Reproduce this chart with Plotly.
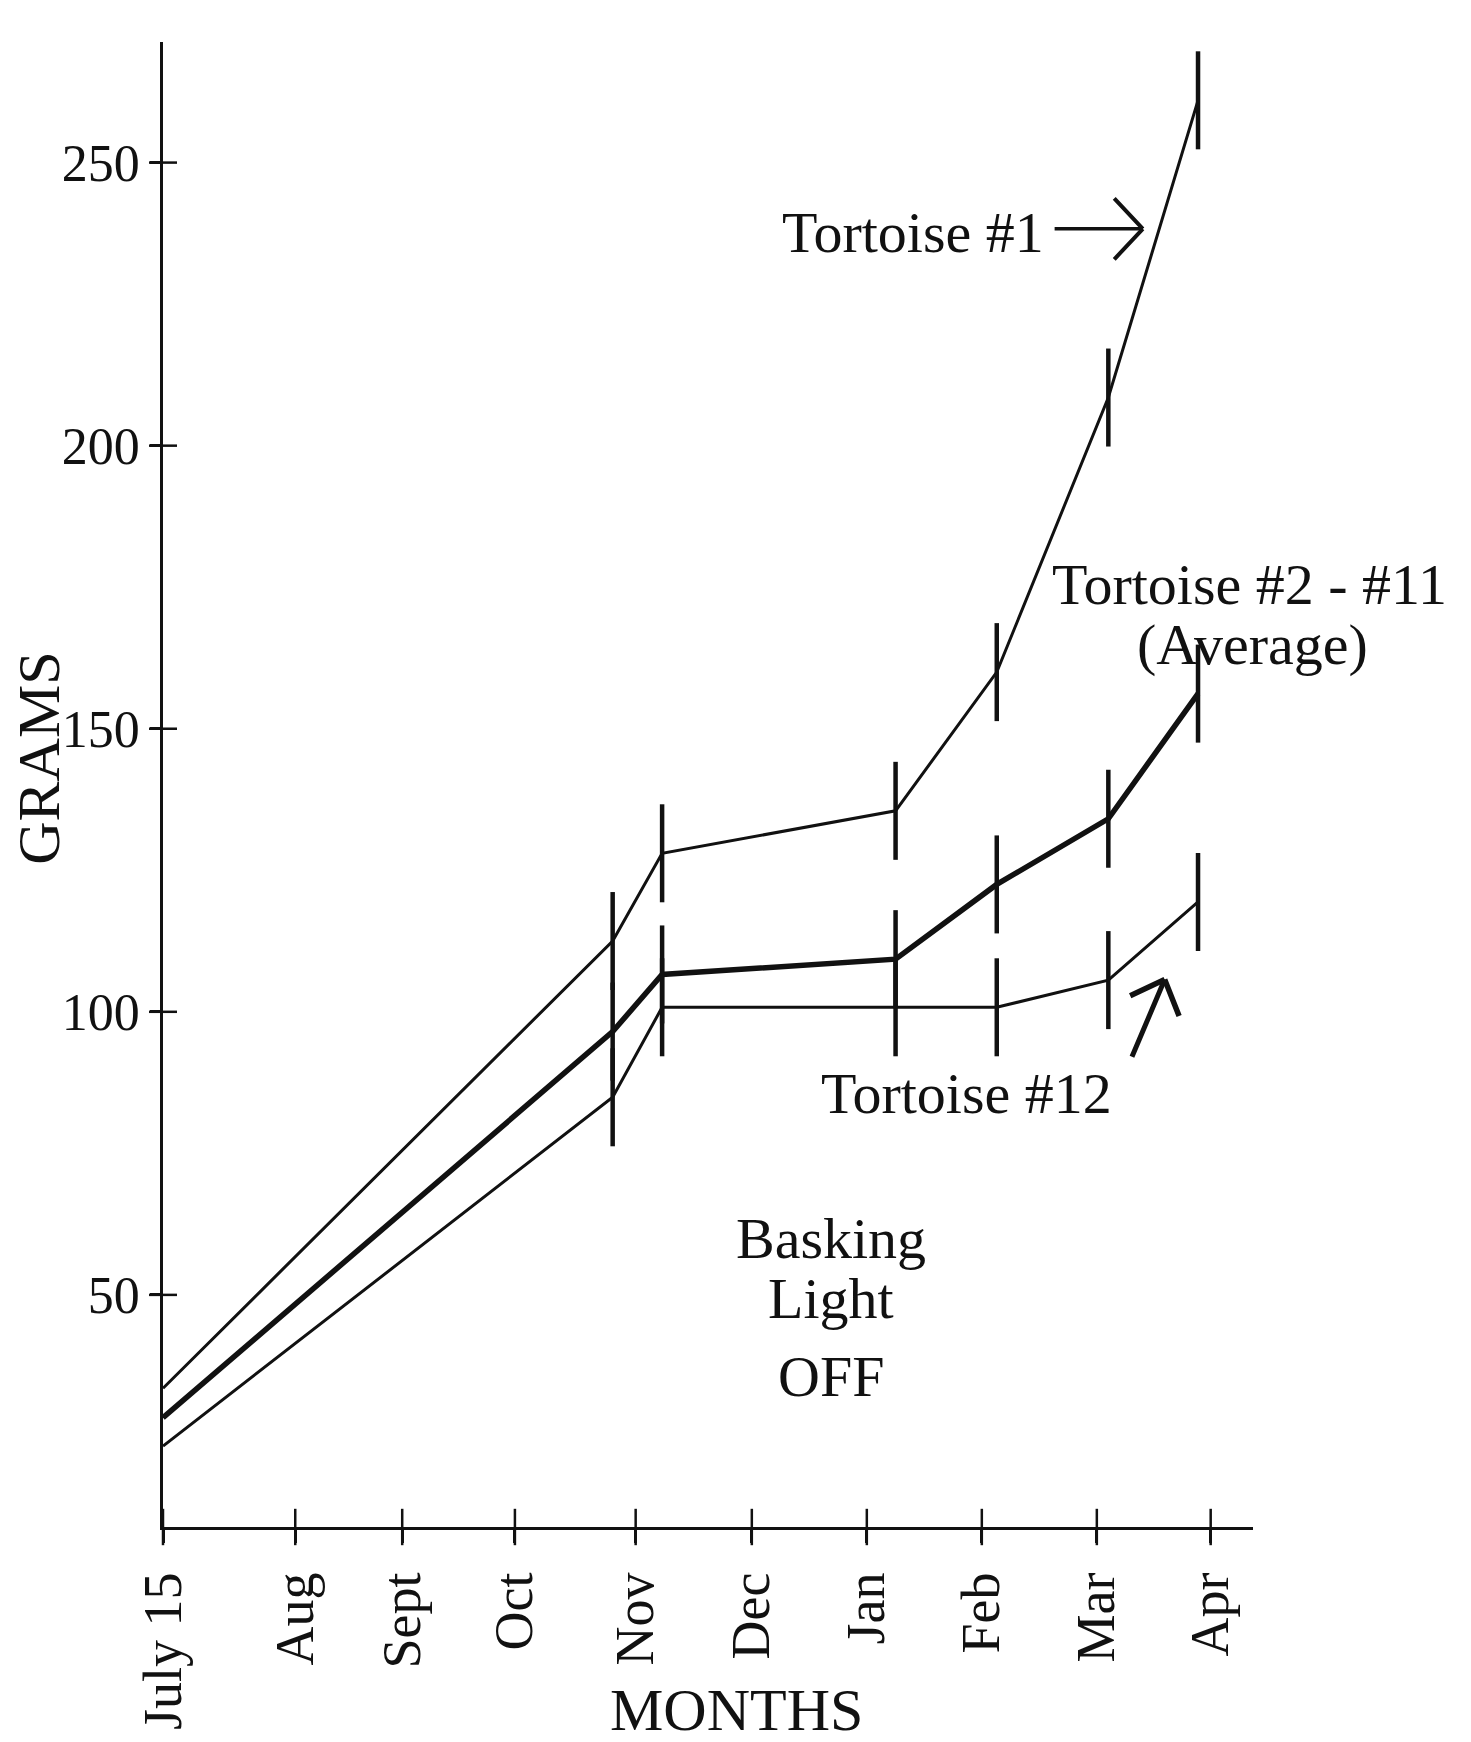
import plotly.graph_objects as go

# ---- data ----
# x positions in "month widths" measured from July 15
time_pos = [0.0, 3.91, 4.34, 6.37, 7.25, 8.22, 9.0]
tortoise_1 = [33.5, 112.5, 128.0, 135.5, 160.0, 208.5, 261.0]
tortoise_avg = [28.3, 96.5, 106.6, 109.3, 122.5, 134.1, 156.2]
tortoise_12 = [23.3, 84.9, 100.8, 100.8, 100.8, 105.6, 119.4]

month_labels = ["July 15", "Aug", "Sept", "Oct", "Nov", "Dec", "Jan", "Feb", "Mar", "Apr"]
month_pos = [0.0, 1.15, 2.08, 3.06, 4.11, 5.12, 6.12, 7.12, 8.12, 9.11]
gram_ticks = [50, 100, 150, 200, 250]

X_MAX = 9.478
Y_MIN, Y_MAX = 9.0, 271.3

FONT = "Liberation Serif"
BLACK = "#111111"

fig = go.Figure()

for vals, lw in [(tortoise_1, 3), (tortoise_avg, 5.5), (tortoise_12, 3)]:
    fig.add_trace(go.Scatter(
        x=time_pos, y=vals, mode="lines",
        line=dict(color=BLACK, width=lw),
        showlegend=False, hoverinfo="skip",
    ))
    # vertical bar at each measurement (not at the start)
    fig.add_trace(go.Scatter(
        x=time_pos[1:], y=vals[1:], mode="markers",
        marker=dict(symbol="line-ns", size=70, opacity=1,
                    line=dict(color=BLACK, width=4.5), color=BLACK),
        cliponaxis=False, showlegend=False, hoverinfo="skip",
    ))

# crossing tick marks
fig.add_trace(go.Scatter(
    x=month_pos, y=[Y_MIN] * len(month_pos), mode="markers",
    marker=dict(symbol="line-ns", size=26, line=dict(color=BLACK, width=2.5)),
    cliponaxis=False, showlegend=False, hoverinfo="skip"))
fig.add_trace(go.Scatter(
    x=[0] * len(gram_ticks), y=gram_ticks, mode="markers",
    marker=dict(symbol="line-ew", size=20, line=dict(color=BLACK, width=2.5)),
    cliponaxis=False, showlegend=False, hoverinfo="skip"))

ann_font = dict(family=FONT, size=58, color=BLACK)
annotations = [
    dict(text="Tortoise #1", x=7.68, y=237.6, xanchor="right", yanchor="middle"),
    dict(text="Tortoise #2 - #11", x=9.45, y=175.4, xanchor="center", yanchor="middle"),
    dict(text="(Average)", x=9.47, y=164.9, xanchor="center", yanchor="middle"),
    dict(text="Tortoise #12", x=6.99, y=85.6, xanchor="center", yanchor="middle"),
    dict(text="Basking", x=5.81, y=60.0, xanchor="center", yanchor="middle"),
    dict(text="Light", x=5.81, y=49.4, xanchor="center", yanchor="middle"),
    dict(text="OFF", x=5.81, y=35.6, xanchor="center", yanchor="middle"),
]
for a in annotations:
    fig.add_annotation(xref="x", yref="y", showarrow=False, font=ann_font, **a)


def open_arrow(tip, tail, wings, width):
    """Shaft from tail to tip (data units) plus open chevron wings (pixel offsets)."""
    fig.add_annotation(xref="x", yref="y", axref="x", ayref="y", text="",
                       x=tip[0], y=tip[1], ax=tail[0], ay=tail[1], showarrow=True,
                       arrowhead=0, arrowwidth=width, arrowcolor=BLACK, standoff=0)
    for dx, dy in wings:
        fig.add_annotation(xref="x", yref="y", text="", x=tip[0], y=tip[1],
                           ax=dx, ay=dy, showarrow=True, arrowhead=0,
                           arrowwidth=width + 0.5, arrowcolor=BLACK, standoff=0)


open_arrow((8.52, 238.3), (7.74, 238.3), [(-30, -32), (-30, 32)], 3.5)
open_arrow((8.71, 105.7), (8.42, 91.8), [(-36, 17), (15, 38)], 5)

# axis titles
title_font = dict(family=FONT, size=60, color=BLACK)
fig.add_annotation(xref="paper", yref="paper", text="GRAMS", x=-0.1138, y=0.518,
                   textangle=-90, showarrow=False, font=title_font,
                   xanchor="center", yanchor="middle")
fig.add_annotation(xref="paper", yref="paper", text="MONTHS", x=0.5266, y=-0.1235,
                   showarrow=False, font=title_font, xanchor="center", yanchor="middle")

fig.update_layout(
    width=1471, height=1742,
    margin=dict(l=163, r=218, t=42, b=195),
    paper_bgcolor="white", plot_bgcolor="white",
    font=dict(family=FONT, color=BLACK),
    xaxis=dict(range=[0, X_MAX], showline=True, linewidth=3, linecolor=BLACK,
               tickvals=month_pos, ticktext=month_labels, tickangle=-90,
               ticks="outside", ticklen=13, tickwidth=2.5, tickcolor=BLACK,
               tickfont=dict(family=FONT, size=54, color=BLACK),
               showgrid=False, zeroline=False, ticklabelstandoff=8),
    yaxis=dict(range=[Y_MIN, Y_MAX], showline=True, linewidth=2.5, linecolor=BLACK,
               tickvals=gram_ticks, ticks="outside", ticklen=10, tickwidth=2.5,
               tickcolor=BLACK, tickfont=dict(family=FONT, size=52, color=BLACK),
               showgrid=False, zeroline=False),
)

fig.write_html("out.html")
